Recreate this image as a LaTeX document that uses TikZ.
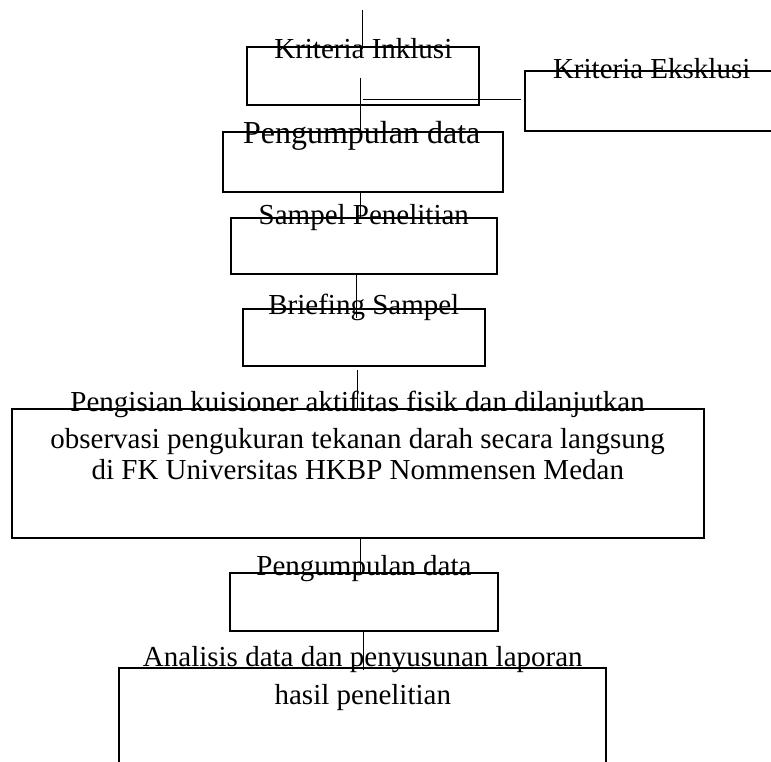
\documentclass[tikz,border=0pt]{standalone}
\usepackage{fontspec}
\setmainfont{Liberation Serif}
\begin{document}
\begin{tikzpicture}[x=1pt,y=-1pt,
  box/.style={draw, line width=2pt, inner sep=0pt, outer sep=0pt, anchor=north west},
  conn/.style={draw, line width=1pt},
  txt/.style={anchor=base, inner sep=0pt, font=\fontsize{29}{33}\selectfont},
  txtbig/.style={anchor=base, inner sep=0pt, font=\fontsize{32}{36}\selectfont}]
\useasboundingbox (0,0) rectangle (771,762);
\clip (0,0) rectangle (771,762);
% boxes
\node[box, minimum width=232.6pt, minimum height=57.7pt] (inkl) at (246.7,47.3) {};
\node[box, minimum width=275pt, minimum height=60pt] (eks) at (525,70.7) {};
\node[box, minimum width=279.4pt, minimum height=60.6pt] (peng1) at (223.3,131.7) {};
\node[box, minimum width=265.7pt, minimum height=55.7pt] (samp) at (231,218.3) {};
\node[box, minimum width=242.3pt, minimum height=57pt] (brief) at (242.7,309) {};
\node[box, minimum width=691.7pt, minimum height=128.2pt] (big) at (12.3,409.3) {};
\node[box, minimum width=268.2pt, minimum height=57.4pt] (peng2) at (229.5,573.3) {};
\node[box, minimum width=487pt, minimum height=132.5pt] (anal) at (119,667.5) {};
% texts
\node[txt] (tinkl) at (363.3,58.3) {Kriteria Inklusi};
\node[txt] (teks) at (651.7,78.3) {Kriteria Eksklusi};
\node[txtbig] (tpeng1) at (361.7,143.3) {Pengumpulan data};
\node[txt] (tsamp) at (363.8,225) {Sampel Penelitian};
\node[txt] (tbrief) at (363.8,314) {Briefing Sampel};
\node[txt] (tbig1) at (357.6,411.7) {Pengisian kuisioner aktifitas fisik dan dilanjutkan};
\node[txt] (tbig2) at (357.6,448.3) {observasi pengukuran tekanan darah secara langsung};
\node[txt] (tbig3) at (357.8,479) {di FK Universitas HKBP Nommensen Medan};
\node[txt] (tpeng2) at (364,575) {Pengumpulan data};
\node[txt] (tanal1) at (362.8,666) {Analisis data dan penyusunan laporan};
\node[txt] (tanal2) at (362.8,704) {hasil penelitian};
% connectors
\coordinate (c0) at (362.7,10);
\draw[conn] (c0) -- ([yshift=-2pt]c0 |- inkl.north);
\coordinate (c1) at (360,78.3);
\draw[conn] (c1) -- (c1 |- peng1.north);
\coordinate (c2) at (362.7,99.3);
\draw[conn, shorten >=4.3pt] (c2) -- (c2 -| eks.west);
\coordinate (c3) at (360,192.3);
\draw[conn] (c3) -- (c3 |- samp.north);
\coordinate (c4) at (356,274);
\draw[conn] (c4) -- ([yshift=-9pt]c4 |- brief.north);
\coordinate (c5) at (357.3,370);
\draw[conn] (c5) -- (c5 |- big.north);
\coordinate (c6) at (360.7,537.5);
\draw[conn] (c6) -- (c6 |- peng2.north);
\coordinate (c7) at (363.3,630.7);
\draw[conn] (c7) -- ([yshift=-2.5pt]c7 |- anal.north);
\end{tikzpicture}
\end{document}
